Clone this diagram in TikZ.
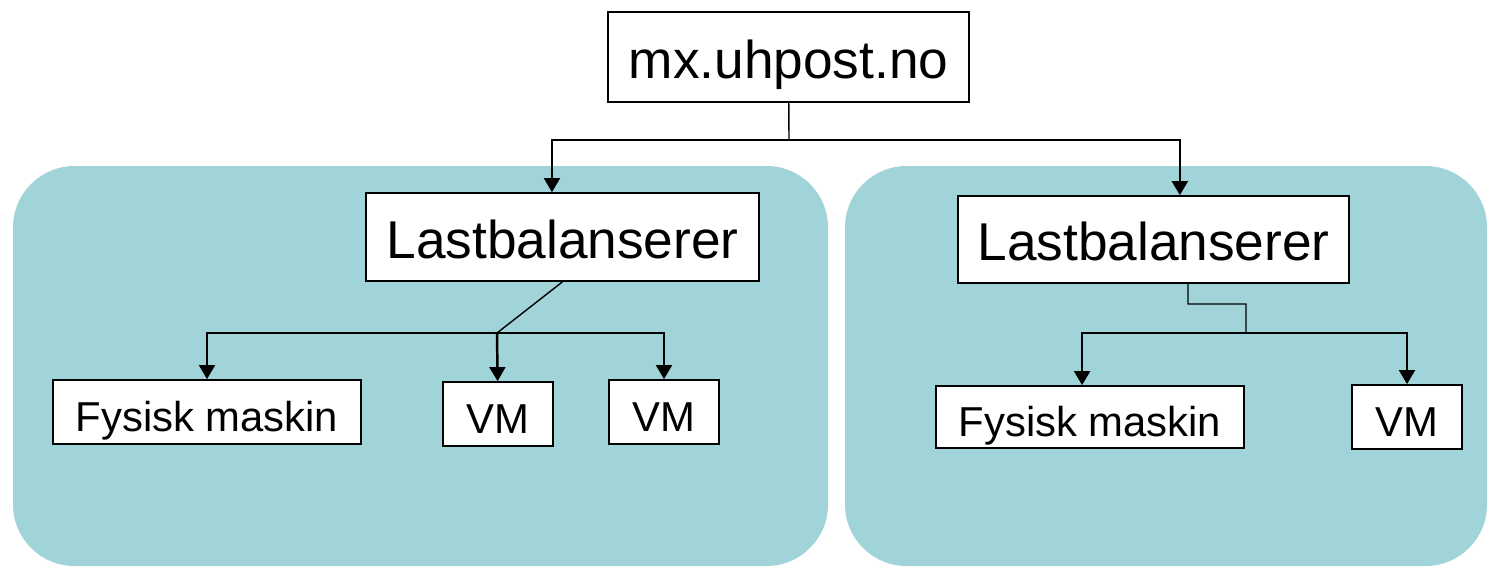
\documentclass[tikz,border=0pt]{standalone}
\usepackage{fontspec}
\setmainfont{Liberation Sans}
\usepackage{xcolor}
\usepackage{tikz}
\usetikzlibrary{arrows.meta}

\definecolor{panelblue}{RGB}{160,212,216}

\begin{document}
\begin{tikzpicture}[x=0.02cm,y=-0.02cm,
  box/.style={draw=black,line width=1.1pt,fill=white,inner sep=0pt},
  big/.style={box,font=\fontsize{30.3}{36}\selectfont,text height=24.2pt,text depth=0pt},
  small/.style={box,font=\fontsize{23.8}{28}\selectfont,text height=22.1pt,text depth=0pt},
  arr/.style={line width=1.4pt,-{Triangle[length=8pt,width=9pt]}},
  plain/.style={line width=0.8pt}]
\useasboundingbox (0,0) rectangle (1490,568);

% bakgrunn
\fill[panelblue,rounded corners=35pt] (13,166) rectangle (828,566);
\fill[panelblue,rounded corners=35pt] (845,166) rectangle (1487,566);

% toppen
\node[big,minimum width=363*0.5669pt,minimum height=90*0.5669pt] (top) at (788.5,57) {mx.uhpost.no};

% lastbalanserere
\node[big,minimum width=395*0.5669pt,minimum height=88*0.5669pt] (lbL) at (562.5,237) {Lastbalanserer};
\node[big,minimum width=393*0.5669pt,minimum height=87*0.5669pt] (lbR) at (1153.5,239.5) {Lastbalanserer};

% maskiner venstre
\node[small,minimum width=310*0.5669pt,minimum height=64*0.5669pt] (fysL) at (207,412) {Fysisk maskin};
\node[small,minimum width=110*0.5669pt,minimum height=64*0.5669pt] (vmA) at (498,414) {VM};
\node[small,minimum width=110*0.5669pt,minimum height=64*0.5669pt] (vmB) at (664,412) {VM};

% maskiner hoyre
\node[small,minimum width=310*0.5669pt,minimum height=62*0.5669pt] (fysR) at (1090,417) {Fysisk maskin};
\node[small,minimum width=110*0.5669pt,minimum height=64*0.5669pt] (vmC) at (1407,417) {VM};

% knutepunkt
\coordinate (jTop) at (789,140);
\coordinate (jL) at (497,333);
\coordinate (kR) at (1188,304);
\coordinate (jR) at (1246,333);

% toppen ned
\draw[plain] (top) -- (jTop);
\draw[arr] (jTop) -| ([xshift=-6pt]lbL.north);
\draw[arr] (jTop) -| ([xshift=15pt]lbR.north);

% venstre gren
\draw[plain] (lbL.south) -- (jL);
\draw[arr] (jL) -| (fysL);
\draw[arr] (jL) -- (vmA);
\draw[arr] (jL) -| (vmB);

% hoyre gren
\draw[plain] ([xshift=19.6pt]lbR.south) -- (kR) -| (jR);
\draw[arr] (jR) -| ([xshift=-4.5pt]fysR.north);
\draw[arr] (jR) -| (vmC);
\end{tikzpicture}
\end{document}
